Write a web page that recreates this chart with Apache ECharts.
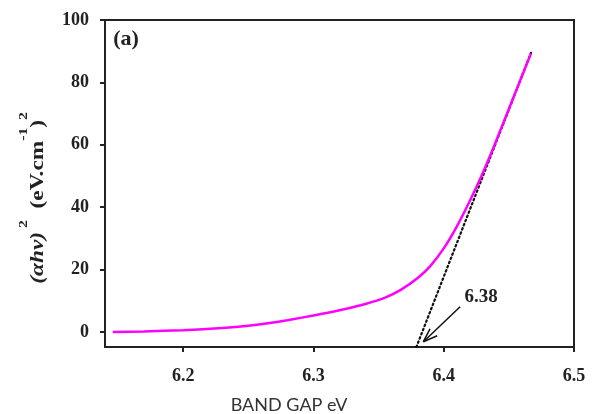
<!DOCTYPE html>
<html>
<head>
<meta charset="utf-8">
<script src="https://cdn.jsdelivr.net/npm/echarts@6/dist/echarts.min.js"></script>
<style>
html,body{margin:0;padding:0;background:#fff;}
#c{width:598px;height:414px;}
</style>
</head>
<body>
<div id="c"></div>
<script>
// Measured curve (BAND GAP eV vs (αhv)^2)
var energy = [6.146, 6.17, 6.2, 6.23, 6.25, 6.265, 6.28, 6.3, 6.32, 6.34, 6.355, 6.367, 6.38, 6.39, 6.4, 6.41, 6.42, 6.43, 6.44, 6.45, 6.46, 6.467];
var absorb = [0, 0.2, 0.6, 1.3, 2.0, 2.8, 3.8, 5.3, 7.0, 9.0, 11, 13.5, 17.3, 21.3, 26.8, 33.8, 42.0, 51.0, 61.0, 71.5, 82.0, 89.3];
// Linear extrapolation (Tauc fit)
var fitX = [6.379, 6.467];
var fitY = [-4.8, 89.5];
// Annotation arrow (shaft + head)
var arrowX = [6.4126, 6.3844];
var arrowY = [8.1, -3.1];
var headX = [6.3950, 6.3844, 6.3895];
var headY = [-1.2, -3.1, 1.0];
var xTicks = [6.2, 6.3, 6.4, 6.5];
var yTicks = [0, 20, 40, 60, 80, 100];

function zip(a, b) { return a.map(function (v, i) { return [v, b[i]]; }); }

var serif = 'Liberation Serif';
var chart = echarts.init(document.getElementById('c'));
chart.setOption({
  animation: false,
  backgroundColor: '#fff',
  grid: { left: 105, right: 24, top: 20, bottom: 67, show: true, borderColor: '#222', borderWidth: 2, backgroundColor: 'transparent' },
  xAxis: {
    type: 'value', min: 6.14, max: 6.5,
    splitLine: { show: false },
    axisLine: { show: true, onZero: false, lineStyle: { color: '#222', width: 2 } },
    axisTick: { show: true, customValues: xTicks, length: 5, lineStyle: { color: '#222', width: 2 } },
    axisLabel: { customValues: xTicks, margin: 20, fontFamily: serif, fontWeight: 'bold', fontSize: 18, color: '#222',
      formatter: function (v) { return v.toFixed(1); } }
  },
  yAxis: {
    type: 'value', min: -4.8, max: 100,
    splitLine: { show: false },
    axisLine: { show: true, onZero: false, lineStyle: { color: '#222', width: 2 } },
    axisTick: { show: true, customValues: yTicks, length: 5, lineStyle: { color: '#222', width: 2 } },
    axisLabel: { customValues: yTicks, margin: 16, fontFamily: serif, fontWeight: 'bold', fontSize: 18, color: '#222' }
  },
  series: [
    { type: 'line', data: zip(energy, absorb), smooth: 0.25, symbol: 'none',
      lineStyle: { color: '#ff00ff', width: 2.5 }, z: 3 },
    { type: 'line', data: zip(fitX, fitY), symbol: 'none',
      lineStyle: { color: '#111', width: 2.2, type: [1.5, 3], cap: 'round' }, z: 2 },
    { type: 'line', data: zip(arrowX, arrowY), symbol: 'none',
      lineStyle: { color: '#111', width: 1.5 }, z: 4 },
    { type: 'line', data: zip(headX, headY), symbol: 'none',
      lineStyle: { color: '#111', width: 1.5 }, z: 4 }
  ],
  graphic: [
    { type: 'text', x: 126, y: 39, style: { text: '(a)', font: 'bold 22px "Liberation Serif"', fill: '#222', align: 'center', verticalAlign: 'middle' } },
    { type: 'text', x: 481, y: 297, style: { text: '6.38', font: 'bold 19px "Liberation Serif"', fill: '#222', align: 'center', verticalAlign: 'middle' } },
    { type: 'text', x: 289, y: 405, style: { text: 'BAND GAP eV', font: '18px Lato', fill: '#333', align: 'center', verticalAlign: 'middle' } },
    { type: 'text', x: 38, y: 198, rotation: Math.PI / 2, scaleX: 1.3,
      style: {
        text: '{a|(αhv)}{s| 2}{b|  (eV.cm}{s|-1}{b|)}{s|2}',
        align: 'center', verticalAlign: 'middle', fill: '#222',
        rich: {
          a: { fontFamily: serif, fontWeight: 'bold', fontStyle: 'italic', fontSize: 18, lineHeight: 40, fill: '#222' },
          b: { fontFamily: serif, fontWeight: 'bold', fontSize: 18, lineHeight: 40, fill: '#222' },
          s: { fontFamily: serif, fontWeight: 'bold', fontSize: 12, lineHeight: 12, verticalAlign: 'top', fill: '#222' }
        }
      } }
  ]
});
</script>
</body>
</html>
